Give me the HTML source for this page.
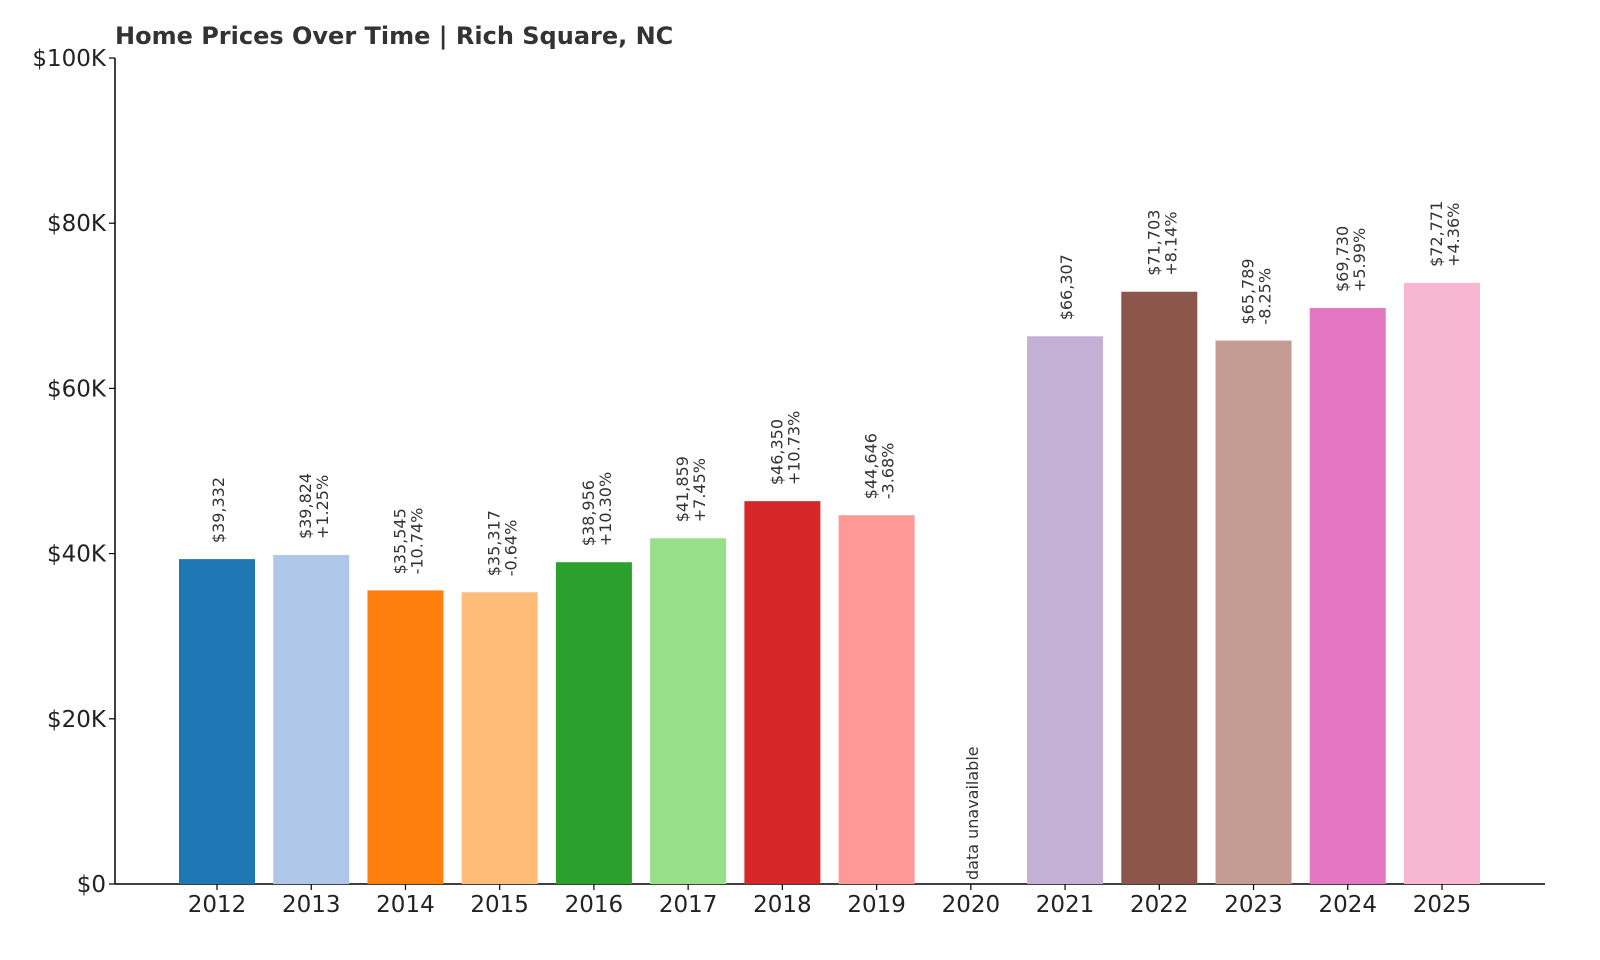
<!DOCTYPE html>
<html><head><meta charset="utf-8"><style>
body{margin:0;background:#fff;}
svg{display:block;font-family:"DejaVu Sans","Liberation Sans",sans-serif;}
</style></head><body>
<svg id="chart" width="1600" height="960">
<text x="115" y="44" font-size="24" font-weight="bold" fill="#333">Home Prices Over Time | Rich Square, NC</text>
<g id="axes"></g><g id="bars"></g><g id="labels"></g>
</svg>
<script>
const years=["2012","2013","2014","2015","2016","2017","2018","2019","2020","2021","2022","2023","2024","2025"];
const values=[39332,39824,35545,35317,38956,41859,46350,44646,null,66307,71703,65789,69730,72771];
const changes=[null,"+1.25%","-10.74%","-0.64%","+10.30%","+7.45%","+10.73%","-3.68%",null,null,"+8.14%","-8.25%","+5.99%","+4.36%"];
const colors=["#1f77b4","#aec7e8","#ff7f0e","#ffbb78","#2ca02c","#98df8a","#d62728","#ff9896","#9467bd","#c5b0d5","#8c564b","#c49c94","#e377c2","#f7b6d2"];
const yTicks=[0,20000,40000,60000,80000,100000];
const yTickLabels=["$0","$20K","$40K","$60K","$80K","$100K"];
const NS="http://www.w3.org/2000/svg";
const y=v=>884-v*(826/100000);
const x=i=>217+i*94.23;
const bw=76;
function mk(tag,attrs,parent,text){const e=document.createElementNS(NS,tag);for(const k in attrs)e.setAttribute(k,attrs[k]);if(text!==undefined)e.textContent=text;parent.appendChild(e);return e;}
const axes=document.getElementById('axes'),bars=document.getElementById('bars'),labels=document.getElementById('labels');
let ax=mk('line',{x1:115,y1:58,x2:115,y2:884,stroke:'#000','stroke-width':1.5},axes);


let bx=mk('line',{x1:115,y1:884,x2:1545,y2:884,stroke:'#000','stroke-width':1.5},axes);


yTicks.forEach((t,k)=>{
 mk('line',{x1:109,y1:y(t),x2:115,y2:y(t),stroke:'#000','stroke-width':1.2},axes);
 const tl=mk('text',{x:106,y:y(t)+8,'text-anchor':'end','font-size':23,fill:'#222'},axes,yTickLabels[k]);
 
 
});
years.forEach((yr,i)=>{
 const cx=x(i);
 mk('line',{x1:cx,y1:884,x2:cx,y2:890,stroke:'#000','stroke-width':1.2},axes);
 const xl=mk('text',{x:cx,y:912,'text-anchor':'middle','font-size':23,fill:'#222'},axes,yr);
 
 
 const v=values[i];
 if(v===null){
  const t=mk('text',{transform:`translate(${cx+7},880) rotate(-90)`,'font-size':16,fill:'#333'},labels,'data unavailable');
  
  
  return;
 }
 const b=mk('rect',{x:cx-bw/2,y:y(v),width:bw,height:884-y(v),fill:colors[i]},bars);
 
 
 const top=y(v)-16;
 const vs='$'+v.toLocaleString('en-US');
 if(changes[i]){
  const t1=mk('text',{transform:`translate(${cx},${top}) rotate(-90)`,'font-size':16,fill:'#333'},labels,vs);
  
  
  const t2=mk('text',{transform:`translate(${cx+17},${top}) rotate(-90)`,'font-size':16,fill:'#333'},labels,changes[i]);
  
  
 } else {
  const t1=mk('text',{transform:`translate(${cx+7},${top}) rotate(-90)`,'font-size':16,fill:'#333'},labels,vs);
  
  
 }
});
</script>
</body></html>
